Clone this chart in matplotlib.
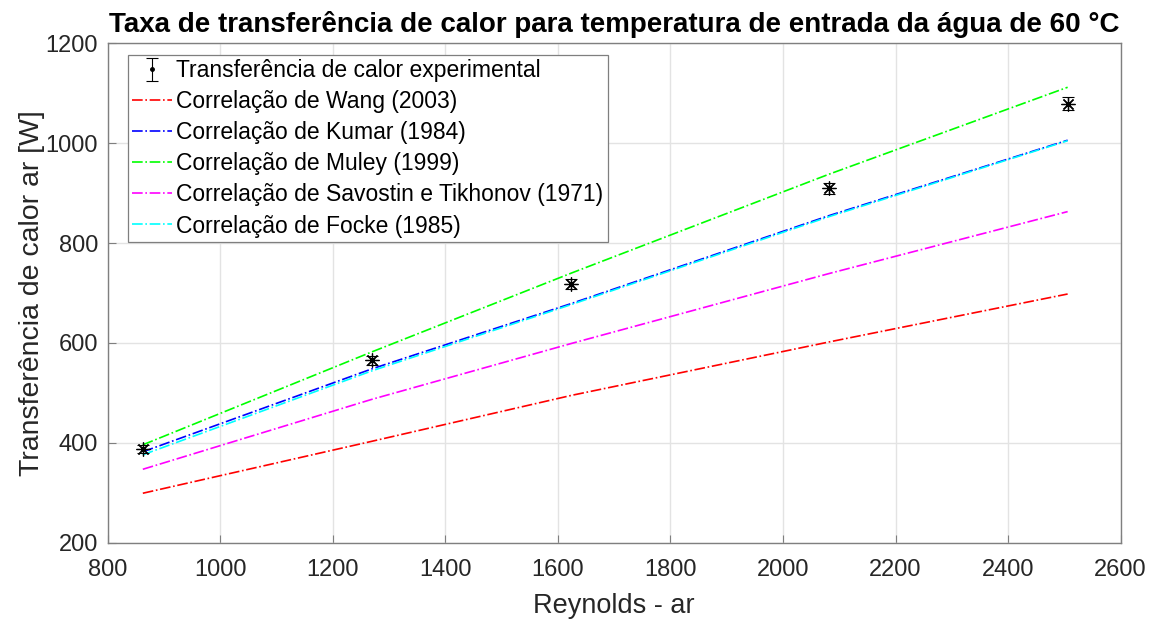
import matplotlib
matplotlib.use("Agg")
import matplotlib.pyplot as plt
from matplotlib import font_manager
from matplotlib.legend_handler import HandlerTuple
import numpy as np

plt.rcParams['font.family'] = ['Liberation Sans', 'DejaVu Sans']

reynolds = [862, 1269, 1624, 2082, 2506]
q_exp = [388, 565, 719, 910, 1079]
q_err = [8, 9, 10, 11, 13]
q_wang = [299, 403, 495, 602, 698]
q_kumar = [382, 548, 679, 855, 1006]
q_muley = [396, 582, 740, 938, 1112]
q_savostin = [347, 487, 599, 739, 863]
q_focke = [376, 544, 677, 853, 1005]

title = "Taxa de transferência de calor para temperatura de entrada da água de 60 °C"
xlabel = "Reynolds - ar"
ylabel = "Transferência de calor ar [W]"
labels = ["Transferência de calor experimental",
          "Correlação de Wang (2003)",
          "Correlação de Kumar (1984)",
          "Correlação de Muley (1999)",
          "Correlação de Savostin e Tikhonov (1971)",
          "Correlação de Focke (1985)"]
xticks = [800, 1000, 1200, 1400, 1600, 1800, 2000, 2200, 2400, 2600]
yticks = [200, 400, 600, 800, 1000, 1200]

available = {f.name for f in font_manager.fontManager.ttflist}
if 'Liberation Sans Narrow' in available:
    title_family = ['Liberation Sans Narrow', 'DejaVu Sans']
    title_size = 17.5
else:
    title_family = ['Liberation Sans', 'DejaVu Sans']
    title_size = 20

fig = plt.figure(figsize=(11.62, 6.19), dpi=100)
ax = fig.add_axes([0.0929, 0.1233, 0.9643 - 0.0929, 0.930 - 0.1233])

handles = []
eb = ax.errorbar(reynolds, q_exp, yerr=q_err, fmt='none', ecolor='black',
                 elinewidth=0.8, capsize=4, capthick=0.8, zorder=5)
mk, = ax.plot(reynolds, q_exp, linestyle='none', marker=(8, 2, 0), color='black',
              markersize=10, markeredgewidth=0.9, zorder=6)
leg_mk, = ax.plot([], [], linestyle='none', marker='.', color='black', markersize=5)
handles.append((eb, leg_mk))
series = [q_wang, q_kumar, q_muley, q_savostin, q_focke]
colors = ['#ff0000', '#0000ff', '#00ff00', '#ff00ff', '#00ffff']
for s, c in zip(series, colors):
    ln, = ax.plot(reynolds, s, linestyle='-.', color=c, linewidth=1.2)
    handles.append(ln)

ax.set_xlim(800, 2600)
ax.set_ylim(200, 1200)
ax.set_xticks(xticks)
ax.set_yticks(yticks)
ax.grid(True, color='#e3e3e3', linewidth=1.0)
ax.set_axisbelow(True)
for sp in ax.spines.values():
    sp.set_color('#7f7f7f')
    sp.set_linewidth(1.0)
ax.tick_params(direction='in', length=6, width=0.8, color='#7f7f7f',
               labelsize=17, labelcolor='#262626', top=False, right=False)
ax.tick_params(axis='y', pad=7)
ax.tick_params(axis='x', pad=12)
ax.set_xlabel(xlabel, fontsize=19.5, color='#262626')
ax.set_ylabel(ylabel, fontsize=20.5, color='#262626')
ax.xaxis.set_label_coords(0.5, -0.100)
ax.yaxis.set_label_coords(-0.062, 0.5)
ax.set_title(title, fontsize=title_size, fontweight='bold', pad=8, family=title_family)

leg = ax.legend(handles, labels, loc='upper left', bbox_to_anchor=(0.0195, 0.977),
                fontsize=16.5, frameon=True, fancybox=False, edgecolor='#7f7f7f',
                framealpha=1, handlelength=1.75, handletextpad=0.15, borderpad=0.2,
                labelspacing=0.35, borderaxespad=0,
                handler_map={tuple: HandlerTuple(ndivide=1)})
leg.get_frame().set_linewidth(0.9)

fig.savefig("out.png", dpi=100)
